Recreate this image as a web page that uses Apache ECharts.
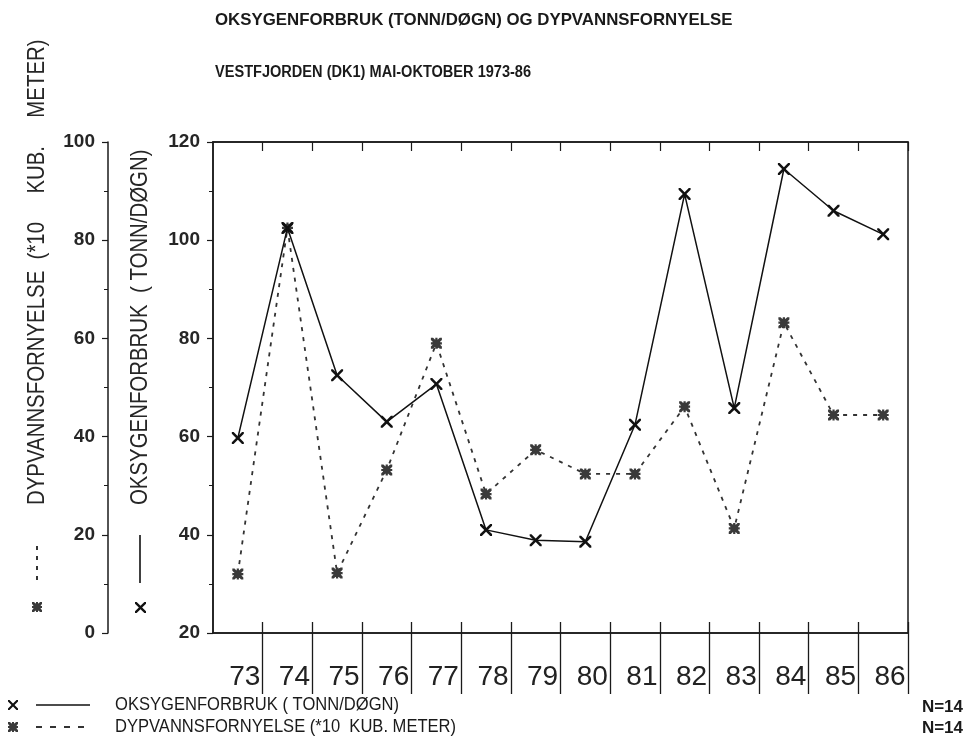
<!DOCTYPE html>
<html>
<head>
<meta charset="utf-8">
<script src="https://cdn.jsdelivr.net/npm/echarts@6/dist/echarts.min.js"></script>
<style>html,body{margin:0;padding:0;background:#fff}#c{width:966px;height:740px}</style>
</head>
<body>
<div id="c"></div>
<script>
// ---- data ----
const years = ['73','74','75','76','77','78','79','80','81','82','83','84','85','86'];
const oksygen = [59.7, 102.5, 72.5, 63.0, 70.7, 41.0, 38.9, 38.6, 62.4, 109.4, 65.8, 114.5, 106.0, 101.2];
const dypvann = [12.0, 82.5, 12.2, 33.2, 59.0, 28.3, 37.3, 32.4, 32.4, 46.1, 21.3, 63.2, 44.4, 44.4];
const innerAxis = {min: 20, max: 120, step: 20};
const outerAxis = {min: 0, max: 100, step: 20};
const titleText = 'OKSYGENFORBRUK (TONN/DØGN) OG DYPVANNSFORNYELSE';
const subtitleText = 'VESTFJORDEN (DK1) MAI-OKTOBER 1973-86';
const nameOksygen = 'OKSYGENFORBRUK ( TONN/DØGN)';
const nameDypvann = 'DYPVANNSFORNYELSE (*10  KUB. METER)';
const axisNameOksygen = 'OKSYGENFORBRUK  ( TONN/DØGN)';
const axisNameDypvann = 'DYPVANNSFORNYELSE  (*10     KUB.     METER)';
const nText = 'N=14';

// ---- symbol shapes (unit 10x10) ----
const crossPts = [[0,0],[1.5,0],[5,3.5],[8.5,0],[10,0],[10,1.5],[6.5,5],[10,8.5],[10,10],[8.5,10],[5,6.5],[1.5,10],[0,10],[0,8.5],[3.5,5],[0,1.5]];
const xPts = [[0,0],[2,0],[5,3],[8,0],[10,0],[10,2],[7,5],[10,8],[10,10],[8,10],[5,7],[2,10],[0,10],[0,8],[3,5],[0,2]];
const plusPts = [[4,0],[6,0],[6,4],[10,4],[10,6],[6,6],[6,10],[4,10],[4,6],[0,6],[0,4],[4,4]];
const sqPts = [[1.5,1.5],[8.5,1.5],[8.5,8.5],[1.5,8.5]];
function toPath(pts) { return 'M' + pts.map(p => p[0] + ',' + p[1]).join(' L') + ' Z'; }
const crossPath = 'path://' + toPath(crossPts);
const starPath = 'path://' + toPath(xPts) + ' ' + toPath(plusPts) + ' ' + toPath(sqPts);
function place(pts, x, y, s) { return pts.map(p => [x + p[0] * s / 10, y + p[1] * s / 10]); }
function crossGraphic(x, y, s, fill) { return {type: 'polygon', shape: {points: place(crossPts, x, y, s)}, style: {fill: fill}}; }
function starGraphic(x, y, s, fill) {
  return {type: 'group', children: [xPts, plusPts, sqPts].map(pts => ({type: 'polygon', shape: {points: place(pts, x, y, s)}, style: {fill: fill}}))};
}

const FONT = '"Liberation Sans", Arial, sans-serif';
const INK = '#1a1a1a';

const chart = echarts.init(document.getElementById('c'));

const yAxisCommon = {
  type: 'value',
  position: 'left',
  axisLine: {show: true, lineStyle: {color: INK, width: 1.5}},
  axisTick: {show: true, length: 6, lineStyle: {color: INK, width: 1.2}},
  minorTick: {show: true, splitNumber: 2, length: 4, lineStyle: {color: INK, width: 1}},
  splitLine: {show: false},
  axisLabel: {fontFamily: FONT, fontSize: 19, fontWeight: 'bold', color: '#262626', margin: 13}
};
const tickInterval = function (i) { return i > 0; };

chart.setOption({
  animation: false,
  backgroundColor: '#fff',
  grid: {left: 213, right: 58, top: 142, bottom: 107, show: true, borderColor: INK, borderWidth: 1.5, backgroundColor: 'transparent'},
  xAxis: [
    {
      type: 'category', data: years, position: 'bottom', boundaryGap: true,
      axisLine: {show: true, lineStyle: {color: INK, width: 1.5}},
      axisTick: {show: true, inside: false, length: 61, interval: tickInterval, lineStyle: {color: INK, width: 1.3}},
      axisLabel: {
        interval: 0, margin: 30,
        formatter: function (v) { return '{a|' + v + '}'; },
        rich: {a: {width: 45, align: 'right', fontFamily: FONT, fontSize: 28, color: '#222'}}
      },
      splitLine: {show: false}
    },
    {
      type: 'category', data: years, position: 'bottom', boundaryGap: true,
      axisLine: {show: false},
      axisTick: {show: true, inside: true, length: 11, interval: tickInterval, lineStyle: {color: INK, width: 1.3}},
      axisLabel: {show: false}, splitLine: {show: false}
    },
    {
      type: 'category', data: years, position: 'top', boundaryGap: true,
      axisLine: {show: true, lineStyle: {color: INK, width: 1.5}},
      axisTick: {show: true, inside: true, length: 9, interval: tickInterval, lineStyle: {color: INK, width: 1.2}},
      axisLabel: {show: false}, splitLine: {show: false}
    }
  ],
  yAxis: [
    Object.assign({}, yAxisCommon, {min: innerAxis.min, max: innerAxis.max, interval: innerAxis.step, offset: 0}),
    Object.assign({}, yAxisCommon, {min: outerAxis.min, max: outerAxis.max, interval: outerAxis.step, offset: 105})
  ],
  series: [
    {
      name: nameOksygen, type: 'line', xAxisIndex: 0, yAxisIndex: 0, data: oksygen,
      symbol: crossPath, symbolSize: 12,
      itemStyle: {color: '#111'},
      lineStyle: {color: '#111', width: 1.5, type: 'solid'},
      z: 3
    },
    {
      name: nameDypvann, type: 'line', xAxisIndex: 0, yAxisIndex: 1, data: dypvann,
      symbol: starPath, symbolSize: 11,
      itemStyle: {color: '#3a3a3a'},
      lineStyle: {color: '#333', width: 1.8, type: [4, 6]},
      z: 2
    }
  ],
  graphic: [
    {type: 'text', x: 215, y: 20, scaleX: 0.99, style: {text: titleText, font: 'bold 17px ' + FONT, fill: INK, textAlign: 'left', textVerticalAlign: 'middle'}},
    {type: 'text', x: 215, y: 73, scaleX: 0.91, style: {text: subtitleText, font: 'bold 16px ' + FONT, fill: INK, textAlign: 'left', textVerticalAlign: 'middle'}},
    // rotated axis names
    {type: 'text', x: 37, y: 505, rotation: Math.PI / 2, scaleX: 0.85, style: {text: axisNameDypvann, font: '24px ' + FONT, fill: '#262626', textAlign: 'left', textVerticalAlign: 'middle'}},
    {type: 'line', shape: {x1: 37, y1: 580, x2: 37, y2: 545}, style: {stroke: '#333', lineWidth: 2, lineDash: [4, 6]}},
    starGraphic(32, 602, 10, '#3a3a3a'),
    {type: 'text', x: 140, y: 505, rotation: Math.PI / 2, scaleX: 0.85, style: {text: axisNameOksygen, font: '24px ' + FONT, fill: '#262626', textAlign: 'left', textVerticalAlign: 'middle'}},
    {type: 'line', shape: {x1: 140, y1: 583, x2: 140, y2: 535}, style: {stroke: '#111', lineWidth: 1.6}},
    crossGraphic(135, 602, 11, '#111'),
    // bottom legend
    crossGraphic(8, 700, 10, '#111'),
    {type: 'line', shape: {x1: 36, y1: 705, x2: 90, y2: 705}, style: {stroke: '#111', lineWidth: 1.6}},
    {type: 'text', x: 115, y: 705, scaleX: 0.92, style: {text: nameOksygen, font: '18px ' + FONT, fill: INK, textAlign: 'left', textVerticalAlign: 'middle'}},
    starGraphic(8, 722, 10, '#3a3a3a'),
    {type: 'line', shape: {x1: 36, y1: 727, x2: 90, y2: 727}, style: {stroke: '#333', lineWidth: 1.8, lineDash: [6, 8]}},
    {type: 'text', x: 115, y: 727, scaleX: 0.92, style: {text: nameDypvann, font: '18px ' + FONT, fill: INK, textAlign: 'left', textVerticalAlign: 'middle'}},
    {type: 'text', x: 963, y: 707, style: {text: nText, font: 'bold 17px ' + FONT, fill: INK, textAlign: 'right', textVerticalAlign: 'middle'}},
    {type: 'text', x: 963, y: 728, style: {text: nText, font: 'bold 17px ' + FONT, fill: INK, textAlign: 'right', textVerticalAlign: 'middle'}}
  ]
});
</script>
</body>
</html>
